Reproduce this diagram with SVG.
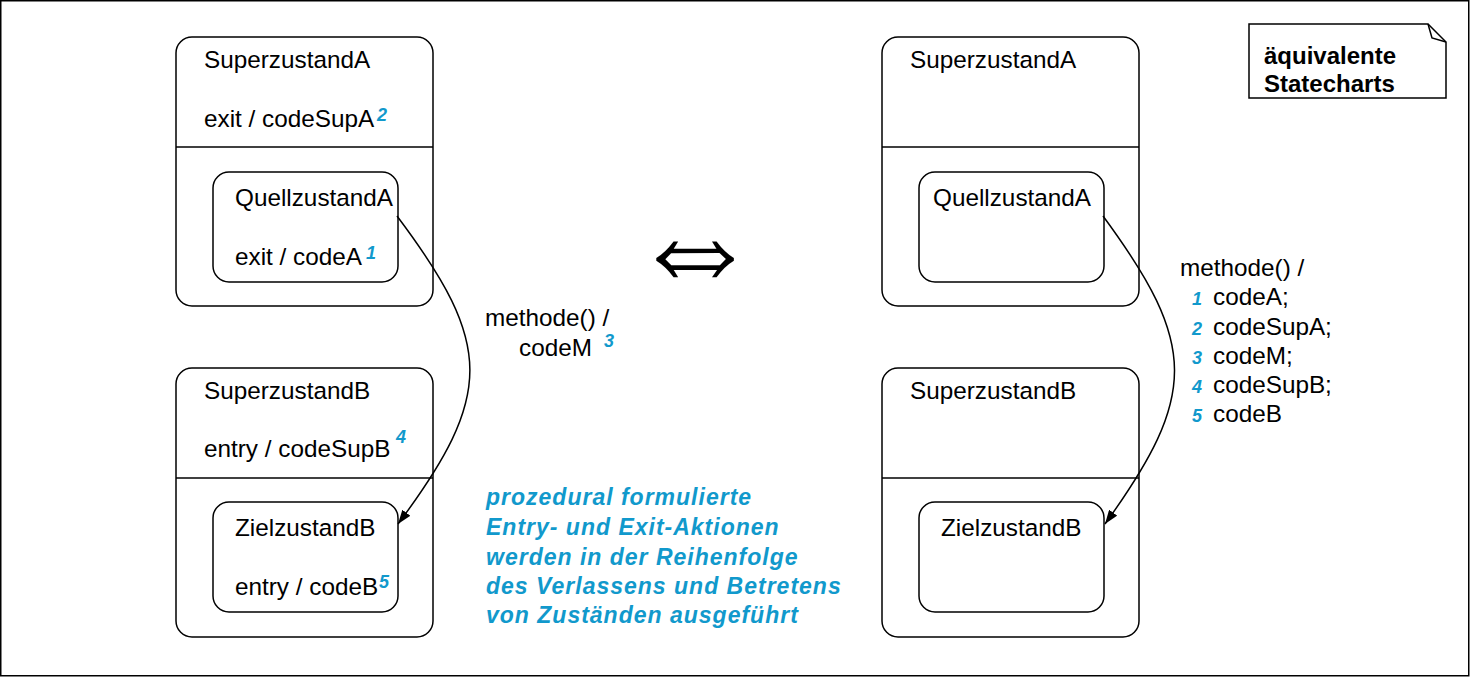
<svg xmlns="http://www.w3.org/2000/svg" width="1470" height="677" viewBox="0 0 1470 677">
<style>
.box{fill:#fff;stroke:#000;stroke-width:1.5}
.ln{stroke:#000;stroke-width:1.5;fill:none}
.t{font-family:"Liberation Sans",Arial,sans-serif;font-size:24.3px;fill:#000}
.b{font-family:"Liberation Sans",Arial,sans-serif;font-size:24px;font-weight:bold;fill:#000}
.n{font-family:"Liberation Sans",Arial,sans-serif;font-size:18px;font-weight:bold;font-style:italic;fill:#1199cc}
.c{font-family:"Liberation Sans",Arial,sans-serif;font-size:23px;font-weight:bold;font-style:italic;fill:#1199cc;letter-spacing:1px}
</style>
<defs>
<marker id="ah" viewBox="0 0 14 10" refX="14" refY="5" markerWidth="14" markerHeight="10" markerUnits="userSpaceOnUse" orient="auto">
<path d="M0,0 L14,5 L0,10 Z" fill="#000"/>
</marker>
</defs>
<rect x="0.75" y="0.75" width="1468" height="675" fill="#fff" stroke="#000" stroke-width="1.5"/>

<g id="L_SuperA">
<rect class="box" x="176" y="37" width="257" height="269" rx="16"/>
<line class="ln" x1="176" y1="147" x2="433" y2="147"/>
<text class="t" x="204" y="68">SuperzustandA</text>
<text class="t" x="204" y="127">exit / codeSupA</text>
<text class="n" x="377" y="121">2</text>
</g>
<g id="L_QuellA">
<rect class="box" x="213" y="172" width="185" height="110" rx="16"/>
<text class="t" x="235" y="206">QuellzustandA</text>
<text class="t" x="235" y="265">exit / codeA</text>
<text class="n" x="366" y="259">1</text>
</g>
<g id="L_SuperB">
<rect class="box" x="176" y="368" width="257" height="269" rx="16"/>
<line class="ln" x1="176" y1="478" x2="433" y2="478"/>
<text class="t" x="204" y="399">SuperzustandB</text>
<text class="t" x="204" y="457">entry / codeSupB</text>
<text class="n" x="396" y="443">4</text>
</g>
<g id="L_ZielB">
<rect class="box" x="213" y="502" width="185" height="110" rx="16"/>
<text class="t" x="235" y="536">ZielzustandB</text>
<text class="t" x="235" y="595">entry / codeB</text>
<text class="n" x="379" y="588">5</text>
</g>

<g id="R_SuperA">
<rect class="box" x="882" y="37" width="257" height="269" rx="16"/>
<line class="ln" x1="882" y1="147" x2="1139" y2="147"/>
<text class="t" x="910" y="68">SuperzustandA</text>
</g>
<g id="R_QuellA">
<rect class="box" x="919" y="172" width="185" height="110" rx="16"/>
<text class="t" x="933" y="206">QuellzustandA</text>
</g>
<g id="R_SuperB">
<rect class="box" x="882" y="368" width="257" height="269" rx="16"/>
<line class="ln" x1="882" y1="478" x2="1139" y2="478"/>
<text class="t" x="910" y="399">SuperzustandB</text>
</g>
<g id="R_ZielB">
<rect class="box" x="919" y="502" width="185" height="110" rx="16"/>
<text class="t" x="941" y="536">ZielzustandB</text>
</g>

<g id="connectors">
<path class="ln" d="M397,216 C494,345 494,395 398,524" marker-end="url(#ah)"/>
<path class="ln" d="M1103,216 C1198,345 1198,395 1105,524" marker-end="url(#ah)"/>
</g>

<g id="labels">
<text class="t" x="485" y="326">methode() /</text>
<text class="t" x="519" y="356">codeM</text>
<text class="n" x="604" y="347">3</text>

<text class="t" x="1180" y="276">methode() /</text>
<text class="n" x="1192" y="305">1</text><text class="t" x="1213" y="305">codeA;</text>
<text class="n" x="1192" y="335">2</text><text class="t" x="1213" y="335">codeSupA;</text>
<text class="n" x="1192" y="364">3</text><text class="t" x="1213" y="364">codeM;</text>
<text class="n" x="1192" y="393">4</text><text class="t" x="1213" y="393">codeSupB;</text>
<text class="n" x="1192" y="422">5</text><text class="t" x="1213" y="422">codeB</text>

<text x="0" y="19.5" text-anchor="middle" transform="translate(695,258) scale(1.64,1.9)" font-family="DejaVu Sans, sans-serif" font-weight="200" font-size="80" fill="#000">⇔</text>

<text class="c" x="486" y="505">prozedural formulierte</text>
<text class="c" x="486" y="535">Entry- und Exit-Aktionen</text>
<text class="c" x="486" y="565">werden in der Reihenfolge</text>
<text class="c" x="486" y="594">des Verlassens und Betretens</text>
<text class="c" x="486" y="623">von Zuständen ausgeführt</text>
</g>

<g id="note">
<path class="box" d="M1249,24 H1428 L1446,42 V98 H1249 Z"/>
<path class="ln" d="M1428,24 L1432,38 L1446,42" fill="#ddd"/>
<text class="b" x="1264" y="64">äquivalente</text>
<text class="b" x="1264" y="92">Statecharts</text>
</g>
</svg>
